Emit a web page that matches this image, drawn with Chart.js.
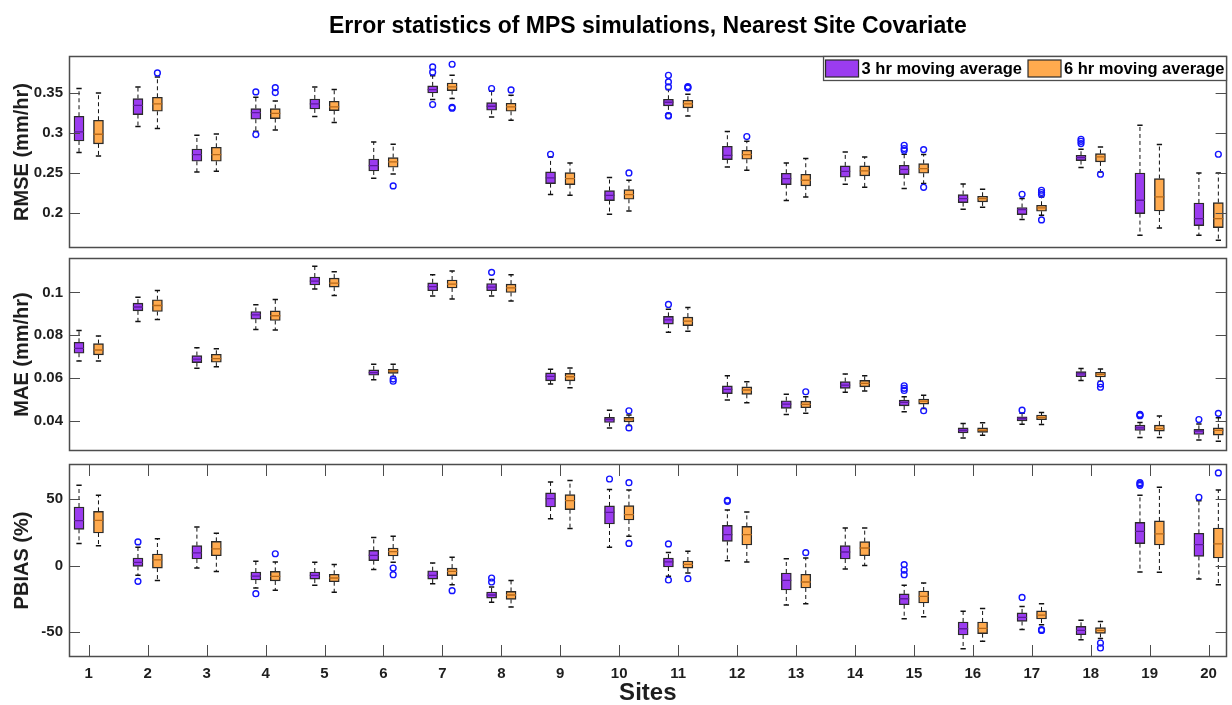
<!DOCTYPE html>
<html>
<head>
<meta charset="utf-8">
<script src="https://cdn.jsdelivr.net/npm/chart.js@4.4.1/dist/chart.umd.min.js"></script>
<style>
html,body{margin:0;padding:0;background:#ffffff;}
#wrap{position:relative;width:1232px;height:705px;overflow:hidden;background:#fff;}
canvas{position:absolute;left:0;}
</style>
</head>
<body>
<div id="wrap">
<canvas id="c1" width="1232" height="270" style="top:0px"></canvas>
<canvas id="c2" width="1232" height="240" style="top:230px"></canvas>
<canvas id="c3" width="1232" height="265" style="top:440px"></canvas>
</div>
<script>
// ---------------- DATA ----------------
const sites = [1,2,3,4,5,6,7,8,9,10,11,12,13,14,15,16,17,18,19,20];
const seriesLabels = ['3 hr moving average', '6 hr moving average'];
const rmseTicks = [0.2, 0.25, 0.3, 0.35];
const maeTicks = [0.04, 0.06, 0.08, 0.1];
const pbiasTicks = [-50, 0, 50];

// each row: [lower whisker, Q1, median, Q3, upper whisker] per site
const rmse3h = [
[0.2755,0.2900,0.3013,0.3209,0.3555],[0.3080,0.3230,0.3346,0.3430,0.3575],
[0.2513,0.2646,0.2730,0.2800,0.2971],[0.3021,0.3171,0.3255,0.3305,0.3446],
[0.3205,0.3300,0.3363,0.3425,0.3575],[0.2434,0.2525,0.2592,0.2675,0.2888],
[0.3417,0.3500,0.3542,0.3588,0.3715],[0.3200,0.3284,0.3334,0.3380,0.3521],
[0.2230,0.2367,0.2438,0.2513,0.2700],[0.1984,0.2155,0.2221,0.2280,0.2442],
[0.3242,0.3338,0.3384,0.3421,0.3542],[0.2575,0.2667,0.2721,0.2834,0.3017],
[0.2155,0.2355,0.2430,0.2496,0.2625],[0.2359,0.2446,0.2521,0.2588,0.2763],
[0.2305,0.2480,0.2546,0.2596,0.2734],[0.2046,0.2130,0.2180,0.2230,0.2363],
[0.1917,0.1980,0.2042,0.2068,0.2180],[0.2567,0.2655,0.2692,0.2721,0.2796],
[0.1721,0.1992,0.2159,0.2500,0.3096],[0.1721,0.1842,0.1930,0.2125,0.2500]];
const rmse6h = [
[0.2713,0.2863,0.2984,0.3159,0.3500],[0.3055,0.3271,0.3363,0.3446,0.3700],
[0.2521,0.2646,0.2730,0.2821,0.2988],[0.3038,0.3180,0.3246,0.3305,0.3400],
[0.3130,0.3280,0.3325,0.3396,0.3542],[0.2488,0.2571,0.2638,0.2692,0.2859],
[0.3430,0.3530,0.3575,0.3625,0.3720],[0.3159,0.3271,0.3325,0.3371,0.3471],
[0.2221,0.2355,0.2430,0.2505,0.2625],[0.2025,0.2171,0.2230,0.2292,0.2409],
[0.3213,0.3313,0.3363,0.3409,0.3484],[0.2534,0.2671,0.2730,0.2784,0.2896],
[0.2200,0.2338,0.2409,0.2484,0.2680],[0.2321,0.2463,0.2525,0.2588,0.2700],
[0.2367,0.2496,0.2555,0.2617,0.2730],[0.2071,0.2138,0.2180,0.2209,0.2296],
[0.1971,0.2021,0.2063,0.2096,0.2200],[0.2513,0.2638,0.2700,0.2742,0.2825],
[0.1813,0.2025,0.2200,0.2430,0.2855],[0.1659,0.1817,0.1930,0.2130,0.2500]];
// outliers: [site, value]
const rmse3hOut = [[4,0.3513],[4,0.2980],[7,0.3825],[7,0.3760],[7,0.3355],[8,0.3555],[9,0.2734],
[11,0.3721],[11,0.3638],[11,0.3575],[11,0.3213],[11,0.3218],[15,0.2846],[15,0.2805],[15,0.2784],
[17,0.2234],[18,0.2921],[18,0.2896],[18,0.2867]];
const rmse6hOut = [[2,0.3750],[4,0.3567],[4,0.3505],[6,0.2338],[7,0.3859],[7,0.3320],[7,0.3310],
[8,0.3538],[10,0.2500],[11,0.3580],[11,0.3570],[11,0.3562],[12,0.2955],[15,0.2792],[15,0.2321],
[17,0.2284],[17,0.2255],[17,0.2230],[17,0.1913],[18,0.2484],[20,0.2734]];

const mae3h = [
[0.0680,0.0716,0.0739,0.0767,0.0822],[0.0864,0.0914,0.0932,0.0950,0.0978],
[0.0646,0.0672,0.0688,0.0705,0.0742],[0.0827,0.0875,0.0895,0.0911,0.0942],
[0.1016,0.1035,0.1053,0.1072,0.1122],[0.0592,0.0613,0.0625,0.0638,0.0664],
[0.0983,0.1008,0.1027,0.1045,0.1083],[0.0983,0.1008,0.1025,0.1042,0.1060],
[0.0572,0.0587,0.0608,0.0624,0.0641],[0.0367,0.0392,0.0406,0.0416,0.0450],
[0.0814,0.0852,0.0872,0.0888,0.0922],[0.0497,0.0527,0.0547,0.0563,0.0611],
[0.0430,0.0458,0.0478,0.0494,0.0524],[0.0533,0.0552,0.0567,0.0583,0.0619],
[0.0442,0.0470,0.0486,0.0497,0.0512],[0.0320,0.0344,0.0356,0.0367,0.0388],
[0.0384,0.0400,0.0411,0.0419,0.0435],[0.0589,0.0606,0.0619,0.0630,0.0645],
[0.0322,0.0355,0.0367,0.0380,0.0392],[0.0310,0.0336,0.0352,0.0360,0.0385]];
const mae6h = [
[0.0680,0.0708,0.0731,0.0761,0.0797],[0.0873,0.0911,0.0939,0.0966,0.1009],
[0.0653,0.0674,0.0691,0.0711,0.0737],[0.0825,0.0869,0.0891,0.0914,0.0967],
[0.0986,0.1025,0.1044,0.1067,0.1097],[0.0607,0.0622,0.0633,0.0641,0.0664],
[0.0969,0.1021,0.1039,0.1058,0.1100],[0.0960,0.1000,0.1021,0.1039,0.1083],
[0.0555,0.0587,0.0606,0.0622,0.0647],[0.0378,0.0395,0.0408,0.0416,0.0427],
[0.0819,0.0845,0.0866,0.0885,0.0930],[0.0484,0.0524,0.0544,0.0559,0.0583],
[0.0435,0.0461,0.0477,0.0492,0.0512],[0.0539,0.0559,0.0575,0.0589,0.0611],
[0.0458,0.0478,0.0492,0.0502,0.0520],[0.0333,0.0346,0.0356,0.0367,0.0391],
[0.0383,0.0405,0.0416,0.0427,0.0439],[0.0585,0.0605,0.0617,0.0627,0.0642],
[0.0322,0.0352,0.0364,0.0380,0.0422],[0.0305,0.0333,0.0355,0.0367,0.0414]];
const mae3hOut = [[8,0.1094],[11,0.0944],[15,0.0564],[15,0.0552],[15,0.0542],[17,0.0450],
[19,0.0430],[19,0.0427],[19,0.0424],[20,0.0406]];
const mae6hOut = [[6,0.0595],[6,0.0585],[10,0.0447],[10,0.0367],[13,0.0536],[15,0.0447],
[18,0.0572],[18,0.0557],[20,0.0435]];

const pbias3h = [
[16.8,27.4,33.9,44.2,60.5],[-7.3,-0.5,2.5,5.8,13.8],[-1.8,5.0,9.6,15.1,29.2],
[-16.8,-10.8,-7.8,-4.8,3.3],[-14.8,-10.1,-7.3,-4.8,2.5],[-2.8,3.8,7.8,11.5,21.3],
[-13.6,-10.1,-7.3,-3.8,2.0],[-27.6,-24.4,-22.1,-19.8,-16.0],[35.4,44.2,50.5,54.8,63.1],
[13.8,31.4,40.2,45.0,57.3],[-8.0,-1.0,2.8,5.8,10.0],[3.8,18.3,23.4,30.4,42.0],
[-29.6,-18.3,-11.1,-5.5,5.3],[-2.5,5.0,10.3,15.1,28.4],[-39.9,-29.4,-24.9,-21.3,-14.8],
[-62.5,-52.2,-47.5,-42.4,-34.4],[-48.0,-42.0,-39.0,-35.6,-30.7],[-55.8,-52.0,-48.8,-45.7,-41.2],
[-4.8,16.6,25.9,32.6,53.0],[-10.1,7.0,15.8,24.4,49.0]];
const pbias6h = [
[15.1,24.6,34.1,40.9,53.0],[-11.1,-1.8,4.3,8.8,20.3],[-4.3,7.5,12.6,18.3,24.4],
[-18.6,-11.5,-8.0,-4.3,2.8],[-20.1,-12.1,-9.3,-6.5,0.8],[2.5,7.3,10.6,13.3,22.1],
[-14.3,-7.5,-4.3,-1.8,6.3],[-31.1,-25.4,-22.1,-19.4,-11.1],[28.1,42.2,49.0,53.5,64.1],
[22.1,34.4,38.4,45.2,57.0],[-5.5,-1.8,1.0,3.5,10.8],[2.8,15.6,23.4,29.6,40.5],
[-28.6,-16.8,-12.3,-6.5,5.8],[0.2,7.5,13.3,18.1,28.4],[-38.4,-28.1,-23.1,-19.1,-13.1],
[-57.0,-51.2,-47.2,-42.4,-32.2],[-44.5,-40.2,-37.2,-34.1,-28.6],[-54.8,-51.0,-48.8,-46.7,-42.0],
[-5.0,15.6,23.9,33.7,59.0],[-14.3,5.8,16.4,28.4,57.0]];
const pbias3hOut = [[2,17.9],[2,-11.8],[4,-21.1],[8,-9.3],[8,-12.3],[10,65.3],[11,16.4],[11,-10.8],
[12,48.5],[12,49.3],[15,0.8],[15,-3.3],[15,-6.8],[17,-23.9],[19,61.6],[19,62.5],[19,60.5],[20,51.5]];
const pbias6hOut = [[4,9.0],[6,-1.8],[6,-6.8],[7,-18.8],[10,62.5],[10,16.8],[11,-9.8],[13,9.8],
[17,-48.2],[17,-48.8],[18,-58.3],[18,-62.0],[20,69.9]];

// ---------------- STYLE ----------------
const FONT = '"Liberation Sans", Arial, Helvetica, sans-serif';
const PURPLE = '#9b3cf0', ORANGE = '#ffaa4e';
const PURPLE_MED = '#5e1a9e', ORANGE_MED = '#b8691a';
const OUT_COLOR = '#1414ff';
const AXIS_COLOR = '#4d4d4d';
const OFF = 0.165, CAP = 0.045, HALF = 0.085;

Chart.defaults.font.family = FONT;
Chart.defaults.font.weight = 'bold';
Chart.defaults.color = '#1e1e1e';

function buildDatasets(stats, outs) {
  const conf = [
    {dx: -OFF, fill: PURPLE, med: PURPLE_MED, label: seriesLabels[0]},
    {dx: OFF, fill: ORANGE, med: ORANGE_MED, label: seriesLabels[1]}
  ];
  const ds = [];
  conf.forEach((c, k) => {
    const st = stats[k];
    ds.push({
      type: 'bar', label: c.label,
      data: st.map((v, i) => ({x: sites[i] + c.dx, y: [v[1], v[3]]})),
      backgroundColor: c.fill, borderColor: '#2a2a2a', borderWidth: 1.4,
      borderSkipped: false, barThickness: 10, grouped: false, order: 3
    });
    const whisk = [], caps = [], meds = [];
    st.forEach((v, i) => {
      const x = sites[i] + c.dx;
      whisk.push({x, y: v[3]}, {x, y: v[4]}, {x, y: null}, {x, y: v[1]}, {x, y: v[0]}, {x, y: null});
      caps.push({x: x - CAP, y: v[4]}, {x: x + CAP, y: v[4]}, {x, y: null},
                {x: x - CAP, y: v[0]}, {x: x + CAP, y: v[0]}, {x, y: null});
      meds.push({x: x - HALF, y: v[2]}, {x: x + HALF, y: v[2]}, {x, y: null});
    });
    ds.push({type: 'line', label: 'whisk' + k, data: whisk, borderColor: '#111', borderWidth: 1,
      borderDash: [4, 3], pointRadius: 0, spanGaps: false, tension: 0, order: 4});
    ds.push({type: 'line', label: 'cap' + k, data: caps, borderColor: '#111', borderWidth: 1.5,
      pointRadius: 0, spanGaps: false, tension: 0, order: 4});
    ds.push({type: 'line', label: 'med' + k, data: meds, borderColor: c.med, borderWidth: 1.3,
      pointRadius: 0, spanGaps: false, tension: 0, order: 1});
    ds.push({type: 'scatter', label: 'out' + k,
      data: outs[k].map(o => ({x: o[0] + c.dx, y: o[1]})),
      pointStyle: 'circle', pointRadius: 2.9, borderColor: OUT_COLOR, borderWidth: 1.4,
      backgroundColor: 'rgba(0,0,0,0)', order: 0});
  });
  return ds;
}

const framePlugin = {
  id: 'frame',
  afterDatasetsDraw(chart, args, opts) {
    const {ctx, chartArea: a} = chart;
    const ys = chart.scales.y, xs = chart.scales.x;
    const L = 11;
    ctx.save();
    ctx.strokeStyle = AXIS_COLOR;
    ctx.lineWidth = 1;
    ctx.beginPath();
    ys.ticks.forEach(t => {
      const py = Math.round(ys.getPixelForValue(t.value)) + 0.5;
      ctx.moveTo(a.left, py); ctx.lineTo(a.left + L, py);
      ctx.moveTo(a.right, py); ctx.lineTo(a.right - L, py);
    });
    if (opts.xTicks) {
      xs.ticks.forEach(t => {
        const px = Math.round(xs.getPixelForValue(t.value)) + 0.5;
        ctx.moveTo(px, a.bottom); ctx.lineTo(px, a.bottom - 12);
        ctx.moveTo(px, a.top); ctx.lineTo(px, a.top + 12);
      });
    }
    ctx.stroke();
    ctx.lineWidth = 1.5;
    ctx.strokeRect(Math.round(a.left) + 0.5, Math.round(a.top) + 0.5,
                   Math.round(a.width) - 1, Math.round(a.height) - 1);
    ctx.restore();
  }
};

const boxLegendPlugin = {
  id: 'boxLegend',
  afterDraw(chart, args, opts) {
    if (!opts.show) return;
    const {ctx, chartArea: a} = chart;
    const items = chart.data.datasets.filter(d => d.type === 'bar');
    ctx.save();
    ctx.font = 'bold 16.5px ' + FONT;
    const sw = 33, sh = 17, gapT = 3, gapI = 6, pad = 2, h = 24;
    const widths = items.map(d => ctx.measureText(d.label).width);
    let total = pad * 2 + gapI * (items.length - 1);
    widths.forEach(w => total += sw + gapT + w);
    const right = Math.round(a.right) - 0.5, top = Math.round(a.top) + 0.5;
    const left = right - total;
    ctx.fillStyle = '#fff';
    ctx.fillRect(left, top, total, h);
    ctx.strokeStyle = AXIS_COLOR; ctx.lineWidth = 1.3;
    ctx.strokeRect(left, top, total, h);
    let x = left + pad;
    items.forEach((d, i) => {
      ctx.fillStyle = d.backgroundColor;
      ctx.fillRect(x, top + 3.5, sw, sh);
      ctx.strokeStyle = '#2a2a2a'; ctx.lineWidth = 1.2;
      ctx.strokeRect(x, top + 3.5, sw, sh);
      x += sw + gapT;
      ctx.fillStyle = '#000';
      ctx.textBaseline = 'middle'; ctx.textAlign = 'left';
      ctx.fillText(d.label, x, top + h / 2 + 1);
      x += widths[i] + gapI;
    });
    ctx.restore();
  }
};

function makePanel(id, cfg) {
  const fmt = v => String(v);
  return new Chart(document.getElementById(id), {
    type: 'bar',
    data: {datasets: buildDatasets(cfg.stats, cfg.outs)},
    plugins: [framePlugin, boxLegendPlugin],
    options: {
      responsive: false, animation: false, events: [],
      layout: {padding: cfg.padding},
      plugins: {
        legend: {display: false}, tooltip: {enabled: false},
        title: cfg.title ? {display: true, text: cfg.title, fullSize: false, color: '#000',
          font: {size: 23, weight: 'bold', family: FONT}, padding: {top: 13, bottom: 15.4}} : {display: false},
        frame: {xTicks: cfg.xAxis},
        boxLegend: {show: !!cfg.legend}
      },
      scales: {
        x: {
          type: 'linear', min: 0.665, max: 20.305, offset: false,
          display: cfg.xAxis,
          afterBuildTicks: s => { s.ticks = sites.map(v => ({value: v})); },
          afterFit: s => { if (cfg.xAxis) s.height = 48; },
          grid: {display: false, drawTicks: false},
          border: {display: false},
          ticks: {font: {size: 15, weight: 'bold'}, padding: 8, maxRotation: 0, autoSkip: false,
                  callback: fmt, color: '#1e1e1e'},
          title: {display: cfg.xAxis, text: 'Sites', color: '#1e1e1e',
                  font: {size: 24, weight: 'bold', lineHeight: 1}, padding: {top: 0, bottom: 0}}
        },
        y: {
          type: 'linear', min: cfg.min, max: cfg.max,
          afterBuildTicks: s => { s.ticks = cfg.ticks.map(v => ({value: v})); },
          afterFit: s => { s.width = 69; },
          grid: {display: false, drawTicks: false},
          border: {display: false},
          ticks: {font: {size: 15, weight: 'bold'}, padding: 6, callback: fmt, color: '#1e1e1e'},
          title: {display: true, text: cfg.yTitle, color: '#1e1e1e',
                  font: {size: 20, weight: 'bold'}, padding: {top: 10, bottom: 0}}
        }
      }
    }
  });
}

makePanel('c1', {stats: [rmse3h, rmse6h], outs: [rmse3hOut, rmse6hOut], ticks: rmseTicks,
  min: 0.1562, max: 0.3962, yTitle: 'RMSE (mm/hr)',
  title: 'Error statistics of MPS simulations, Nearest Site Covariate', legend: true, xAxis: false,
  padding: {left: 0, right: 1, top: 0, bottom: 22}});
makePanel('c2', {stats: [mae3h, mae6h], outs: [mae3hOut, mae6hOut], ticks: maeTicks,
  min: 0.0259, max: 0.1161, yTitle: 'MAE (mm/hr)', xAxis: false,
  padding: {left: 0, right: 1, top: 28, bottom: 19}});
makePanel('c3', {stats: [pbias3h, pbias6h], outs: [pbias3hOut, pbias6hOut], ticks: pbiasTicks,
  min: -68.8, max: 76.6, yTitle: 'PBIAS (%)', xAxis: true,
  padding: {left: 0, right: 1, top: 24, bottom: 0}});
</script>
</body>
</html>
